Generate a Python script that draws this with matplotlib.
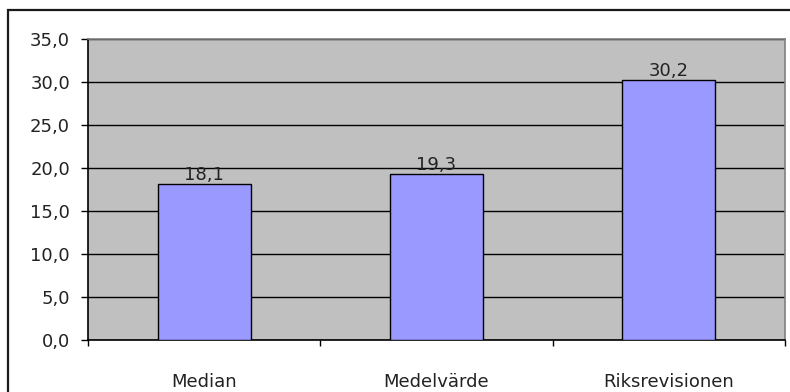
import matplotlib.pyplot as plt
from matplotlib.patches import Rectangle

categories = ["Median", "Medelvärde", "Riksrevisionen"]
values = [18.1, 19.3, 30.2]
yticks = [0, 5, 10, 15, 20, 25, 30, 35]

plt.rcParams["font.family"] = ["DejaVu Sans"]

W, H = 790, 392
fig = plt.figure(figsize=(W / 100, H / 100), dpi=100)
fig.patch.set_facecolor("white")

# outer chart frame (right/bottom run off the image)
fig.patches.append(Rectangle((8 / W, -0.2), 1.2, (H - 10) / H + 0.2,
                             transform=fig.transFigure, fill=False,
                             edgecolor="#1a1a1a", linewidth=1.6))

ax = fig.add_axes([88 / W, 1 - 340 / H, (785 - 88) / W, (340 - 39) / H])
ax.set_facecolor("#c0c0c0")

x = list(range(len(categories)))
ax.bar(x, values, width=0.4, color="#9999ff", edgecolor="black",
       linewidth=1.0, zorder=3)

for xi, v in zip(x, values):
    ax.annotate(f"{v:.1f}".replace(".", ","), xy=(xi, v), xytext=(0, 0),
                textcoords="offset points", ha="center", va="bottom",
                fontsize=13, color="#222222", zorder=4)

ax.set_ylim(0, 35)
ax.set_xlim(-0.5, len(categories) - 0.5)
ax.set_yticks(yticks)
ax.set_yticklabels([f"{t:.1f}".replace(".", ",") for t in yticks])
ax.yaxis.grid(True, color="black", linewidth=1.0)
ax.set_axisbelow(True)

# category boundaries get the ticks, names sit in between
ax.set_xticks([i - 0.5 for i in range(len(categories) + 1)])
ax.set_xticklabels([])
ax.set_xticks(x, minor=True)
ax.set_xticklabels(categories, minor=True)
ax.tick_params(axis="x", which="major", direction="out", length=4, width=1, color="black")
ax.tick_params(axis="x", which="minor", length=0, pad=24, labelsize=13, labelcolor="#222222")
ax.tick_params(axis="y", direction="out", length=5, width=1, color="black",
               pad=8, labelsize=13, labelcolor="#222222")

for side in ["top", "right"]:
    ax.spines[side].set_color("#808080")
    ax.spines[side].set_linewidth(1.2)
for side in ["left", "bottom"]:
    ax.spines[side].set_color("black")
    ax.spines[side].set_linewidth(1.2)

fig.savefig("out.png", dpi=100)
